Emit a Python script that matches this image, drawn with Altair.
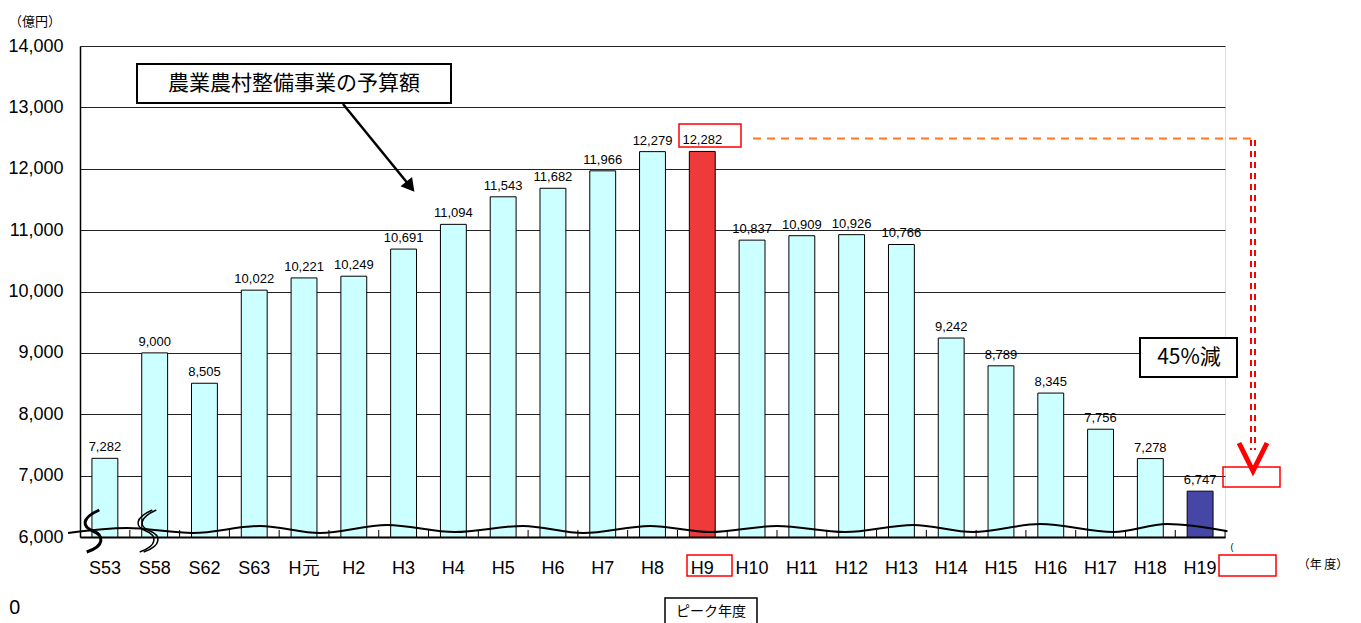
import altair as alt
import pandas as pd

# ---- data ----
categories = ["S53", "S58", "S62", "S63", "H元", "H2", "H3", "H4", "H5", "H6", "H7", "H8",
              "H9", "H10", "H11", "H12", "H13", "H14", "H15", "H16", "H17", "H18", "H19"]
budget = [7282, 9000, 8505, 10022, 10221, 10249, 10691, 11094, 11543, 11682, 11966, 12279,
          12282, 10837, 10909, 10926, 10766, 9242, 8789, 8345, 7756, 7278, 6747]
kinds = ["normal"] * 12 + ["peak"] + ["normal"] * 9 + ["latest"]
y_ticks = [6000, 7000, 8000, 9000, 10000, 11000, 12000, 13000, 14000]

# decorative wavy "axis break" line (position in category units, value in 億円)
wave_x = [-0.24, 0.94, 2.27, 3.62, 4.82, 6.17, 7.53, 8.90, 10.11, 11.45, 12.66, 14.00,
          15.37, 16.74, 17.94, 19.29, 20.76, 21.84, 23.05]
wave_y = [6065, 6145, 6065, 6180, 6065, 6195, 6080, 6180, 6065, 6180, 6080, 6180,
          6080, 6195, 6080, 6210, 6080, 6210, 6095]

df = pd.DataFrame({"cat": categories, "value": budget, "kind": kinds})
wave = pd.DataFrame({"wx": wave_x, "wy": wave_y})
dummy = pd.DataFrame({"n": [0]})

W, H = 1145, 491
NUM_FONT = "Liberation Sans"
JP_FONT = "Noto Sans CJK JP"

yscale = alt.Scale(domain=[6000, 14000], zero=False, nice=False)
xscale = alt.Scale(paddingInner=0.48, paddingOuter=0.24)

x_enc = alt.X("cat:N", sort=categories, scale=xscale,
              axis=alt.Axis(title=None, labelAngle=0, labelFontSize=18, labelFont=NUM_FONT,
                            labelColor="black", ticks=False, labelPadding=22,
                            domainColor="black", domainWidth=2, grid=False))
y_axis = alt.Axis(title=None, values=y_ticks, format=",.0f",
                  labelFontSize=18, labelFont=NUM_FONT, labelColor="black", ticks=False,
                  labelPadding=17, domainColor="black", domainWidth=1.5,
                  gridColor="#222222", gridWidth=1)

bars = alt.Chart(df).mark_bar(stroke="black", strokeWidth=1).encode(
    x=x_enc,
    y=alt.Y("value:Q", scale=yscale, axis=y_axis),
    y2=alt.datum(6000),
    color=alt.Color("kind:N",
                    scale=alt.Scale(domain=["normal", "peak", "latest"],
                                    range=["#CCFFFF", "#EE3A3A", "#4646A6"]),
                    legend=None),
)

labels = alt.Chart(df).mark_text(dy=-7, baseline="alphabetic", fontSize=13, font=NUM_FONT,
                                 color="black").encode(
    x=alt.X("cat:N", sort=categories, scale=xscale),
    y=alt.Y("value:Q", scale=yscale, axis=y_axis),
    text=alt.Text("value:Q", format=","),
)

ticks = alt.Chart(df).mark_rule(color="black", strokeWidth=1, xOffset=12).encode(
    x=alt.X("cat:N", sort=categories, scale=xscale, bandPosition=1),
    y=alt.datum(6000),
    y2=alt.datum(6115),
)

main = alt.layer(bars, ticks, labels)

wave_line = alt.Chart(wave).mark_line(color="black", strokeWidth=2, interpolate="monotone").encode(
    x=alt.X("wx:Q", scale=alt.Scale(domain=[0, 23], nice=False, zero=False), axis=None),
    y=alt.Y("wy:Q", scale=yscale, axis=y_axis),
)


def box(x0, y0, x1, y1, stroke, sw, fill=None):
    props = dict(stroke=stroke, strokeWidth=sw)
    if fill:
        props["fill"] = fill
    else:
        props["fillOpacity"] = 0
    return alt.Chart(dummy).mark_rect(**props).encode(
        x=alt.value(x0), x2=alt.value(x1), y=alt.value(y0), y2=alt.value(y1))


def label(txt, x, y, size, font=JP_FONT, color="black", align="center"):
    return alt.Chart(dummy).mark_text(text=txt, fontSize=size, font=font, color=color,
                                      align=align, baseline="middle").encode(
        x=alt.value(x), y=alt.value(y))


def seg(x0, y0, x1, y1, color, sw, dash=None):
    props = dict(color=color, strokeWidth=sw)
    if dash:
        props["strokeDash"] = dash
    return alt.Chart(dummy).mark_rule(**props).encode(
        x=alt.value(x0), x2=alt.value(x1), y=alt.value(y0), y2=alt.value(y1))


break_shape = "M0.3,-1C-0.6,-0.6,-0.5,-0.2,0,0C0.5,0.2,0.6,0.7,-0.3,1"


def brk(x, y, sw):
    return alt.Chart(dummy).mark_point(shape=break_shape, filled=False, stroke="black",
                                       strokeWidth=sw, size=1764, opacity=1).encode(
        x=alt.value(x), y=alt.value(y))


annotations = [
    # title box with arrow
    box(57, 18, 371, 57, "black", 2, fill="white"),
    label("農業農村整備事業の予算額", 214, 38, 21),
    seg(263, 58, 329, 139, "black", 2.5),
    alt.Chart(dummy).mark_point(shape="triangle", filled=True, fill="black", stroke="black",
                                size=130, angle=141, opacity=1).encode(
        x=alt.value(329), y=alt.value(139)),
    # peak highlight
    box(599, 78, 661, 101, "#FF0000", 1.5),
    seg(673, 92.5, 1175, 92.5, "#FF7722", 2, dash=[8, 6]),
    seg(1171, 94, 1171, 404, "#FF0000", 2, dash=[6, 5]),
    seg(1175, 94, 1175, 404, "#FF0000", 2, dash=[6, 5]),
    alt.Chart(dummy).mark_point(shape="M-1,-1L0,1L1,-1", filled=False, stroke="#FF0000",
                                strokeWidth=5, size=784, opacity=1).encode(
        x=alt.value(1173), y=alt.value(411)),
    box(1143, 421, 1200, 441, "#FF0000", 1.5),
    # 45% reduction box
    box(1060, 292, 1157, 331, "black", 2, fill="white"),
    label("45%減", 1109, 312, 21),
    # x axis decorations
    box(607, 509, 652, 530, "#FF0000", 1.5),
    box(1139, 509, 1196, 530, "#FF0000", 1.5),
    label("(", 1152, 501, 9, font=NUM_FONT),
    label("（年 度）", 1243, 519, 12),
    box(585, 552, 677, 600, "black", 1.5, fill="white"),
    label("ピーク年度", 631, 566, 14),
    # outer texts
    label("（億円）", -45, -24, 13),
    label("0", -71, 562, 20, font="Noto Sans", align="left"),
    # axis break marks
    brk(13, 485, 3),
    brk(66, 485, 1.5),
    brk(70, 485, 1.5),
]

chart = alt.layer(main, wave_line, *annotations).resolve_scale(x="independent").properties(
    width=W, height=H,
    autosize=alt.AutoSizeParams(type="none"),
    padding={"left": 72, "top": 38, "right": 122, "bottom": 86},
).configure_view(stroke="black", strokeWidth=1.5).configure(background="white")

chart.save("out.html", embed_options={"renderer": "svg", "actions": False})
